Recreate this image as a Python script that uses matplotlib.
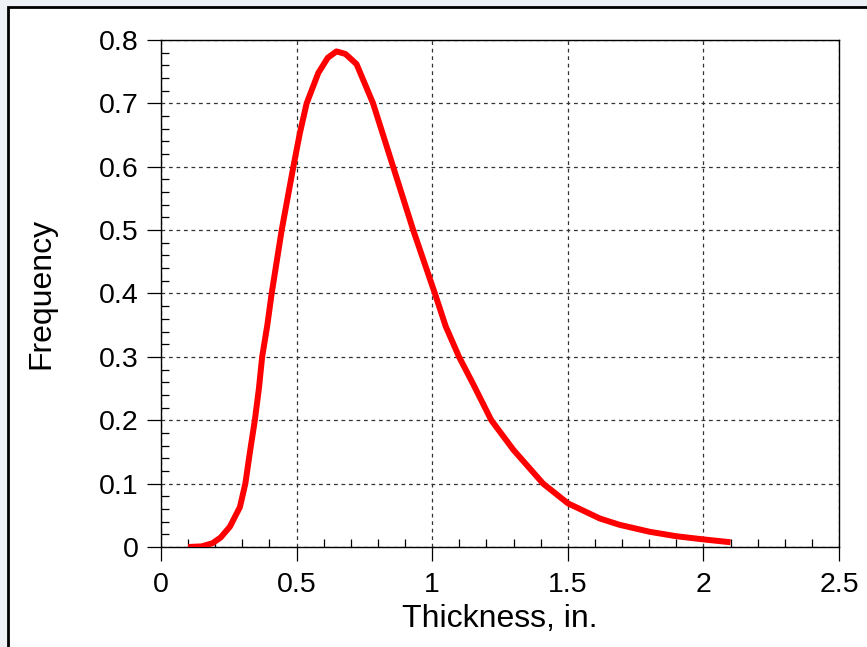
import matplotlib
matplotlib.use("Agg")
import matplotlib.pyplot as plt
from matplotlib.patches import Rectangle
from matplotlib.ticker import MultipleLocator, FixedLocator

plt.rcParams['font.family'] = ['Liberation Sans', 'DejaVu Sans']

thickness = [0.10, 0.15, 0.19, 0.22, 0.254, 0.291, 0.311, 0.328, 0.346, 0.361,
             0.373, 0.392, 0.408, 0.445, 0.488, 0.512, 0.537, 0.580, 0.615,
             0.647, 0.680, 0.721, 0.782, 0.856, 0.930, 1.010, 1.050, 1.099,
             1.150, 1.218, 1.300, 1.409, 1.500, 1.618, 1.691, 1.802, 1.900,
             2.000, 2.100]
frequency = [0.000, 0.001, 0.006, 0.015, 0.032, 0.063, 0.100, 0.150, 0.200, 0.250,
             0.300, 0.350, 0.400, 0.500, 0.600, 0.653, 0.700, 0.748, 0.772,
             0.782, 0.778, 0.762, 0.700, 0.600, 0.500, 0.400, 0.348, 0.300,
             0.258, 0.200, 0.153, 0.100, 0.069, 0.045, 0.035, 0.024, 0.017,
             0.012, 0.0075]

x_ticks = [0, 0.5, 1, 1.5, 2, 2.5]
x_tick_labels = ['0', '0.5', '1', '1.5', '2', '2.5']
y_ticks = [0, 0.1, 0.2, 0.3, 0.4, 0.5, 0.6, 0.7, 0.8]
y_tick_labels = ['0', '0.1', '0.2', '0.3', '0.4', '0.5', '0.6', '0.7', '0.8']

W, H = 867, 647
fig = plt.figure(figsize=(W / 100, H / 100), dpi=100)
fig.patch.set_facecolor('#eef2f7')
fig.patches.append(Rectangle((7.5 / W, -0.1), 1.2, 1 - 6.5 / H + 0.1,
                             transform=fig.transFigure, facecolor='white',
                             edgecolor='black', linewidth=2, zorder=-10))

ax = fig.add_axes([161 / W, 1 - 547 / H, (839 - 161) / W, (547 - 40) / H])
ax.set_zorder(1)
ax.plot(thickness, frequency, color='#ff0000', linewidth=4.3,
        solid_capstyle='butt', solid_joinstyle='round', zorder=3)

ax.set_xlim(0, 2.5)
ax.set_ylim(0, 0.8)
ax.xaxis.set_major_locator(FixedLocator(x_ticks))
ax.set_xticklabels(x_tick_labels)
ax.yaxis.set_major_locator(FixedLocator(y_ticks))
ax.set_yticklabels(y_tick_labels)
ax.xaxis.set_minor_locator(MultipleLocator(0.1))
ax.yaxis.set_minor_locator(MultipleLocator(0.02))

ax.tick_params(which='major', direction='out', length=10, width=0.9,
               labelsize=20.5, color='black')
ax.tick_params(axis='x', which='major', pad=8)
ax.tick_params(axis='y', which='major', pad=6)
ax.tick_params(which='minor', direction='in', length=5.5, width=0.9, color='black')
ax.tick_params(top=False, right=False, which='both')

ax.grid(True, which='major', linestyle=(0, (3, 3)), color='#333333', linewidth=0.9)
for s in ax.spines.values():
    s.set_linewidth(1.0)
    s.set_color('black')

ax.set_xlabel('Thickness, in.', fontsize=23, labelpad=4)
ax.set_ylabel('Frequency', fontsize=23, labelpad=31)

fig.savefig('out.png', dpi=100, facecolor=fig.get_facecolor())
